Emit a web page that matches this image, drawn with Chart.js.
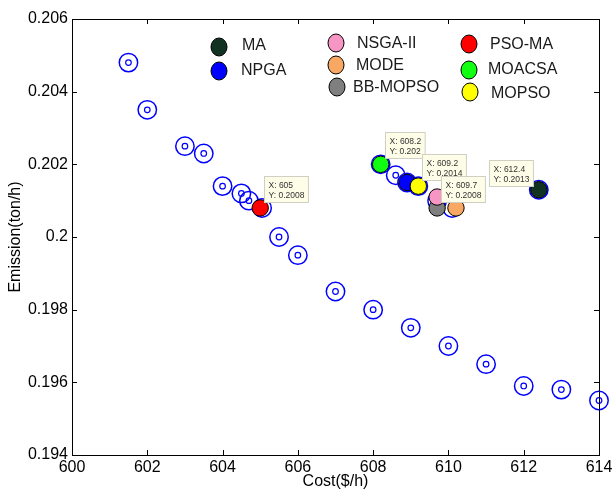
<!DOCTYPE html>
<html>
<head>
<meta charset="utf-8">
<title>Cost vs Emission</title>
<script src="https://cdn.jsdelivr.net/npm/chart.js@4.4.1/dist/chart.umd.min.js"></script>
<style>
    body { margin: 0; background: #fff; }
    #wrap { width: 612px; height: 490px; }
</style>
</head>
<body>
<div id="wrap"><canvas id="grafico" width="612" height="490"></canvas></div>
<script>
// Pareto front (blue double circles)
var paretoCost = [601.5, 602, 603, 603.5, 604, 604.5, 604.7, 605.05, 605.5, 606, 607, 608,
    608.2, 608.6, 608.9, 609.2, 609.7, 610.1, 609, 610, 611, 612, 612.4, 613, 614];
var paretoEmission = [0.2048, 0.2035, 0.2025, 0.2023, 0.2014, 0.2012, 0.2010, 0.2008, 0.2000, 0.1995, 0.1985, 0.1980,
    0.2020, 0.2017, 0.2015, 0.2014, 0.2010, 0.2008, 0.1975, 0.1970, 0.1965, 0.1959, 0.2013, 0.1958, 0.1955];

// compromise solutions of each method
var methods = ['MA', 'NPGA', 'NSGA-II', 'MODE', 'BB-MOPSO', 'PSO-MA', 'MOACSA', 'MOPSO'];
var methodCost = [612.4, 608.9, 609.7, 610.2, 609.7, 605, 608.2, 609.2];
var methodEmission = [0.2013, 0.2015, 0.2011, 0.2008, 0.2008, 0.2008, 0.2020, 0.2014];
var methodColors = ['#123322', '#0000ff', '#f795c4', '#f8a862', '#7f7f7f', '#ff0000', '#11ff11', '#ffff00'];

// methods that carry a data tip
var tipMethods = ['PSO-MA', 'MOACSA', 'MOPSO', 'BB-MOPSO', 'MA'];

var xTicks = [600, 602, 604, 606, 608, 610, 612, 614];
var yTicks = [0.194, 0.196, 0.198, 0.2, 0.202, 0.204, 0.206];

var fonte = "'Liberation Sans', Arial, sans-serif";

// stacking of the markers, bottom first
var camadas = ['MA', 'NPGA', 'MODE', 'BB-MOPSO', 'NSGA-II', 'PSO-MA', 'MOACSA', 'MOPSO'];

var paretoPts = paretoCost.map(function (c, i) { return {x: c, y: paretoEmission[i]}; });

var datasets = [];
methods.forEach(function (nome, i) {
    datasets.push({
        label: nome,
        data: [{x: methodCost[i], y: methodEmission[i]}],
        pointRadius: 8.2,
        pointHoverRadius: 8.2,
        pointBackgroundColor: methodColors[i],
        pointBorderColor: '#000',
        pointBorderWidth: 1,
        showLine: false,
        clip: false,
        order: 100 - camadas.indexOf(nome)
    });
});
// outer and inner ring of the pareto markers
datasets.push({
    label: 'pareto',
    data: paretoPts,
    pointRadius: 9.2,
    pointHoverRadius: 9.2,
    pointBackgroundColor: 'rgba(0,0,0,0)',
    pointBorderColor: '#0000ff',
    pointBorderWidth: 1.5,
    showLine: false,
    clip: false,
    order: 200
});
datasets.push({
    label: 'pareto-in',
    data: paretoPts,
    pointRadius: 2.8,
    pointHoverRadius: 2.8,
    pointBackgroundColor: 'rgba(0,0,0,0)',
    pointBorderColor: '#0000ff',
    pointBorderWidth: 1.2,
    showLine: false,
    clip: false,
    order: 199
});

function fmt(v) {
    return parseFloat(v.toFixed(4)).toString();
}

// box + inward ticks like matlab
var caixaPlugin = {
    id: 'caixa',
    afterDatasetsDraw: function (chart) {
        var ctx = chart.ctx;
        var a = chart.chartArea;
        var sx = chart.scales.x, sy = chart.scales.y;
        ctx.save();
        ctx.strokeStyle = '#000';
        ctx.lineWidth = 1;
        ctx.strokeRect(Math.round(a.left) + 0.5, Math.round(a.top) + 0.5,
            Math.round(a.right - a.left), Math.round(a.bottom - a.top));
        ctx.beginPath();
        xTicks.forEach(function (t) {
            var px = Math.round(sx.getPixelForValue(t)) + 0.5;
            ctx.moveTo(px, a.bottom); ctx.lineTo(px, a.bottom - 5);
            ctx.moveTo(px, a.top); ctx.lineTo(px, a.top + 5);
        });
        yTicks.forEach(function (t) {
            var py = Math.round(sy.getPixelForValue(t)) + 0.5;
            ctx.moveTo(a.left, py); ctx.lineTo(a.left + 5, py);
            ctx.moveTo(a.right, py); ctx.lineTo(a.right - 5, py);
        });
        ctx.stroke();
        ctx.restore();
    }
};

// data tips
var tipPlugin = {
    id: 'dicas',
    afterDatasetsDraw: function (chart) {
        var ctx = chart.ctx;
        var sx = chart.scales.x, sy = chart.scales.y;
        ctx.save();
        ctx.font = '8.5px ' + fonte;
        ctx.textBaseline = 'middle';
        ctx.textAlign = 'left';
        tipMethods.forEach(function (nome) {
            var i = methods.indexOf(nome);
            var px = sx.getPixelForValue(methodCost[i]);
            var py = sy.getPixelForValue(methodEmission[i]);
            var l1 = 'X: ' + fmt(methodCost[i]);
            var l2 = 'Y: ' + fmt(methodEmission[i]);
            var w = Math.max(ctx.measureText(l1).width, ctx.measureText(l2).width) + 8;
            var h = 26;
            var bx, by;
            if (nome === 'MA') {
                bx = px - 6 - w;
                by = py - 4 - h;
            } else {
                bx = px + 4;
                by = py - 6 - h;
            }
            bx = Math.round(bx) + 0.5;
            by = Math.round(by) + 0.5;
            ctx.fillStyle = '#fdfde8';
            ctx.strokeStyle = '#cfcfc4';
            ctx.lineWidth = 1;
            ctx.fillRect(bx, by, w, h);
            ctx.strokeRect(bx, by, w, h);
            ctx.fillStyle = '#333';
            ctx.fillText(l1, bx + 4, by + 9);
            ctx.fillText(l2, bx + 4, by + 19.5);
        });
        ctx.restore();
    }
};

// legend in three columns
var legendaPos = {
    'MA': [219, 47, 242, 46],
    'NPGA': [219, 71, 241, 71],
    'NSGA-II': [336, 43, 357, 44],
    'MODE': [336, 65, 356, 66],
    'BB-MOPSO': [337, 87, 353, 88],
    'PSO-MA': [469, 44, 490, 45],
    'MOACSA': [469, 70, 488, 70],
    'MOPSO': [470, 92, 491, 94]
};
var legendaPlugin = {
    id: 'legenda',
    afterDraw: function (chart) {
        var ctx = chart.ctx;
        ctx.save();
        ctx.font = '16px ' + fonte;
        ctx.textBaseline = 'middle';
        ctx.textAlign = 'left';
        chart.data.datasets.forEach(function (ds) {
            var p = legendaPos[ds.label];
            if (!p) return;
            ctx.beginPath();
            ctx.ellipse(p[0], p[1], 8, 9, 0, 0, Math.PI * 2);
            ctx.fillStyle = ds.pointBackgroundColor;
            ctx.fill();
            ctx.lineWidth = 1;
            ctx.strokeStyle = '#000';
            ctx.stroke();
            ctx.fillStyle = '#1a1a1a';
            ctx.fillText(ds.label, p[2], p[3]);
        });
        ctx.restore();
    }
};

var ctx = document.getElementById('grafico').getContext('2d');
var myChart = new Chart(ctx, {
    type: 'scatter',
    data: {datasets: datasets},
    options: {
        responsive: false,
        animation: false,
        events: [],
        layout: {padding: {top: 19, right: 13, bottom: 0, left: 0}},
        plugins: {
            legend: {display: false},
            tooltip: {enabled: false}
        },
        scales: {
            x: {
                type: 'linear',
                min: 600,
                max: 614,
                afterFit: function (s) {
                    s.height = 35;
                    s.paddingLeft = 0;
                    s.paddingRight = 0;
                },
                afterBuildTicks: function (s) { s.ticks = xTicks.map(function (v) { return {value: v}; }); },
                grid: {display: false, drawTicks: false},
                border: {display: false},
                ticks: {
                    padding: 3,
                    color: '#000',
                    font: {family: fonte, size: 16},
                    maxRotation: 0,
                    callback: function (v) { return v; }
                },
                title: {
                    display: true,
                    text: 'Cost($/h)',
                    color: '#000',
                    font: {family: fonte, size: 16, lineHeight: 1},
                    padding: {top: 0, bottom: 0}
                }
            },
            y: {
                type: 'linear',
                min: 0.194,
                max: 0.206,
                afterFit: function (s) {
                    s.width = 72;
                    s.paddingTop = 0;
                    s.paddingBottom = 0;
                },
                afterBuildTicks: function (s) { s.ticks = yTicks.map(function (v) { return {value: v}; }); },
                grid: {display: false, drawTicks: false},
                border: {display: false},
                ticks: {
                    padding: 4,
                    color: '#000',
                    font: {family: fonte, size: 16},
                    callback: function (v) { return parseFloat(v.toFixed(3)).toString(); }
                },
                title: {
                    display: true,
                    text: 'Emission(ton/h)',
                    color: '#000',
                    font: {family: fonte, size: 16, lineHeight: 1},
                    padding: {top: 8, bottom: 0}
                }
            }
        }
    },
    plugins: [caixaPlugin, tipPlugin, legendaPlugin]
});
</script>
</body>
</html>
